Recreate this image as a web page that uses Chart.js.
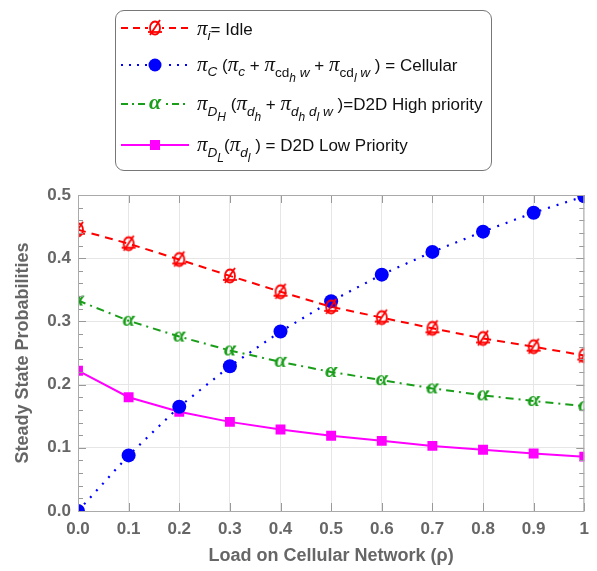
<!DOCTYPE html>
<html>
<head>
<meta charset="utf-8">
<script src="https://cdn.jsdelivr.net/npm/chart.js@4.4.0/dist/chart.umd.min.js"></script>
<style>
  body { margin: 0; background: #fff; font-family: "Liberation Sans", Arial, sans-serif; }
  #wrap { position: relative; width: 597px; height: 571px; }
  #legend { position: absolute; left: 115px; top: 10px; width: 377px; height: 161px;
            border: 1px solid #777; border-radius: 9px; box-sizing: border-box; background: #fff; }
  .row { position: absolute; left: 5px; height: 30px; display: flex; align-items: center; }
  .row canvas { margin-right: 8px; }
  .lbl { font-size: 17px; color: #111; white-space: nowrap; }
  .lbl i.p { font-family: "Liberation Serif", serif; font-size: 21px; }
  .lbl sub { font-size: 80%; vertical-align: -0.4em; line-height: 0; }
  .lbl sub sub { font-size: 88%; }
</style>
</head>
<body>
<div id="wrap">
  <canvas id="chart" width="597" height="571"></canvas>
  <div id="legend">
    <div class="row" style="top:2px"><canvas id="lg0" width="68" height="24"></canvas>
      <span class="lbl"><i class="p">π</i><sub><i>i</i></sub>= Idle</span></div>
    <div class="row" style="top:39px"><canvas id="lg1" width="68" height="24"></canvas>
      <span class="lbl"><i class="p">π</i><sub><i>C</i></sub> (<i class="p">π</i><sub><i>c</i></sub> + <i class="p">π</i><sub>cd<sub><i>h</i></sub> <i>w</i></sub> + <i class="p">π</i><sub>cd<sub><i>l</i></sub> <i>w</i></sub> ) = Cellular</span></div>
    <div class="row" style="top:78px"><canvas id="lg2" width="68" height="24"></canvas>
      <span class="lbl"><i class="p">π</i><sub><i>D<sub>H</sub></i></sub> (<i class="p">π</i><sub><i>d<sub>h</sub></i></sub> + <i class="p">π</i><sub><i>d<sub>h</sub> d<sub>l</sub> w</i></sub> )=D2D High priority</span></div>
    <div class="row" style="top:119px"><canvas id="lg3" width="68" height="24"></canvas>
      <span class="lbl"><i class="p">π</i><sub><i>D<sub>L</sub></i></sub>(<i class="p">π</i><sub><i>d<sub>l</sub></i></sub> ) = D2D Low Priority</span></div>
  </div>
</div>
<script>
var loads = [0, 0.1, 0.2, 0.3, 0.4, 0.5, 0.6, 0.7, 0.8, 0.9, 1.0];
var idle = [0.445, 0.423, 0.398, 0.372, 0.347, 0.323, 0.306, 0.289, 0.273, 0.260, 0.246];
var cellular = [0.000, 0.088, 0.165, 0.229, 0.284, 0.332, 0.374, 0.410, 0.442, 0.472, 0.498];
var d2dHigh = [0.333, 0.301, 0.276, 0.254, 0.236, 0.220, 0.207, 0.194, 0.183, 0.174, 0.166];
var d2dLow = [0.222, 0.180, 0.157, 0.141, 0.129, 0.119, 0.111, 0.103, 0.097, 0.091, 0.086];
var xTicks = [0, 0.1, 0.2, 0.3, 0.4, 0.5, 0.6, 0.7, 0.8, 0.9, 1];
var yTicks = [0, 0.1, 0.2, 0.3, 0.4, 0.5];

var RED = '#ff0000', BLUE = '#0000ff', GREEN = '#1a9e1a', MAG = '#ff00ff';

// marker images
function idleMarker() {
  var c = document.createElement('canvas');
  c.width = 20; c.height = 20;
  var g = c.getContext('2d');
  g.strokeStyle = RED; g.lineWidth = 1.8;
  g.beginPath(); g.ellipse(10, 10, 5, 6.5, 0, 0, Math.PI * 2); g.stroke();
  g.beginPath(); g.moveTo(5, 17); g.lineTo(15, 2); g.stroke();
  g.beginPath(); g.moveTo(3, 14); g.lineTo(17, 14); g.stroke();
  return c;
}
function alphaMarker() {
  var c = document.createElement('canvas');
  c.width = 22; c.height = 22;
  var g = c.getContext('2d');
  g.fillStyle = GREEN;
  g.font = 'italic bold 22px "Liberation Serif", serif';
  g.textAlign = 'center'; g.textBaseline = 'middle';
  g.fillText('α', 11, 10);
  return c;
}
var idleImg = idleMarker();
var alphaImg = alphaMarker();

function pts(arr) {
  return loads.map(function (x, i) { return { x: x, y: arr[i] }; });
}

// legend samples
function sample(id, color, dash, marker) {
  var g = document.getElementById(id).getContext('2d');
  g.strokeStyle = color; g.lineWidth = 2; g.setLineDash(dash);
  g.beginPath(); g.moveTo(0, 12); g.lineTo(68, 12); g.stroke();
  g.setLineDash([]);
  if (marker === 'circle') {
    g.fillStyle = '#fff'; g.fillRect(26, 2, 16, 20);
    g.fillStyle = color; g.beginPath(); g.arc(34, 12, 6.5, 0, Math.PI * 2); g.fill();
  } else if (marker === 'rect') {
    g.fillStyle = color; g.fillRect(29, 7, 10, 10);
  } else {
    g.fillStyle = '#fff'; g.fillRect(27, 2, 14, 20);
    g.drawImage(marker, 34 - marker.width / 2, 12 - marker.height / 2);
  }
}
sample('lg0', RED, [7, 5], idleImg);
sample('lg1', BLUE, [2, 6], 'circle');
sample('lg2', GREEN, [7, 4, 2, 4], alphaImg);
sample('lg3', MAG, [], 'rect');

// inward ticks and frame
var frameTicks = {
  id: 'frameTicks',
  afterDatasetsDraw: function (chart) {
    var a = chart.chartArea, ctx = chart.ctx;
    var xs = chart.scales.x, ys = chart.scales.y;
    ctx.save();
    ctx.strokeStyle = '#999'; ctx.lineWidth = 1;
    for (var v = 0; v <= 0.5001; v += 0.02) {
      var y = Math.round(ys.getPixelForValue(v)) + 0.5;
      var major = Math.abs(v * 10 - Math.round(v * 10)) < 1e-6;
      var len = major ? 8 : 5;
      ctx.beginPath();
      ctx.moveTo(a.left, y); ctx.lineTo(a.left + len, y);
      ctx.moveTo(a.right, y); ctx.lineTo(a.right - len, y);
      ctx.stroke();
    }
    xTicks.forEach(function (t) {
      var x = Math.round(xs.getPixelForValue(t)) + 0.5;
      ctx.beginPath();
      ctx.moveTo(x, a.bottom); ctx.lineTo(x, a.bottom - 8);
      ctx.moveTo(x, a.top); ctx.lineTo(x, a.top + 8);
      ctx.stroke();
    });
    ctx.strokeStyle = '#aaa';
    ctx.strokeRect(a.left + 0.5, a.top + 0.5, a.right - a.left - 1, a.bottom - a.top);
    ctx.restore();
  }
};

new Chart(document.getElementById('chart'), {
  type: 'line',
  data: {
    datasets: [
      { data: pts(idle), borderColor: RED, borderWidth: 2, borderDash: [8, 6],
        pointStyle: idleImg, pointRadius: 9, clip: 0 },
      { data: pts(cellular), borderColor: BLUE, backgroundColor: BLUE, borderWidth: 2.2, borderDash: [2, 7],
        pointStyle: 'circle', pointRadius: 7, pointBorderWidth: 0, clip: 0 },
      { data: pts(d2dHigh), borderColor: GREEN, borderWidth: 2, borderDash: [8, 5, 2, 5],
        pointStyle: alphaImg, pointRadius: 9, clip: 0 },
      { data: pts(d2dLow), borderColor: MAG, backgroundColor: MAG, borderWidth: 2,
        pointStyle: 'rect', pointRadius: 7, pointBorderWidth: 0, clip: 0 }
    ]
  },
  options: {
    responsive: false,
    animation: false,
    events: [],
    layout: { padding: { top: 195, right: 11, left: 0, bottom: 0 } },
    plugins: { legend: { display: false }, tooltip: { enabled: false } },
    scales: {
      x: {
        type: 'linear', min: 0, max: 1,
        afterBuildTicks: function (s) { s.ticks = xTicks.map(function (v) { return { value: v }; }); },
        afterFit: function (s) { s.height = 60; },
        grid: { color: '#e6e6e6', drawTicks: false },
        border: { display: false },
        ticks: {
          padding: 8, color: '#666', font: { size: 17, weight: 'bold', family: '"Liberation Sans", Arial' },
          maxRotation: 0,
          callback: function (v) { return v === 1 ? '1' : v.toFixed(1); }
        },
        title: { display: true, text: 'Load on Cellular Network (ρ)', color: '#666', padding: { top: 8 },
          font: { size: 18, weight: 'bold', family: '"Liberation Sans", Arial' } }
      },
      y: {
        min: 0, max: 0.5,
        afterBuildTicks: function (s) { s.ticks = yTicks.map(function (v) { return { value: v }; }); },
        afterFit: function (s) { s.width = 78; },
        grid: { color: '#e6e6e6', drawTicks: false },
        border: { display: false },
        ticks: {
          padding: 7, color: '#666', font: { size: 17, weight: 'bold', family: '"Liberation Sans", Arial' },
          callback: function (v) { return v.toFixed(1); }
        },
        title: { display: true, text: 'Steady State Probabilities', color: '#666', padding: { top: 12, bottom: 0 },
          font: { size: 18, weight: 'bold', family: '"Liberation Sans", Arial' } }
      }
    }
  },
  plugins: [frameTicks]
});
</script>
</body>
</html>
